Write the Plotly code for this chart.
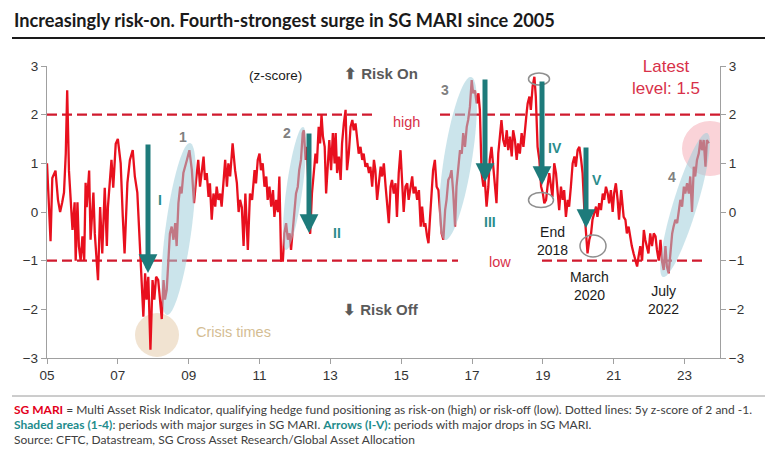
import math
import plotly.graph_objects as go

# ---------------- data ----------------
years = [
2005.00,2005.05,2005.10,2005.15,2005.24,2005.31,2005.37,2005.43,2005.48,2005.53,2005.57,2005.62,2005.67,2005.72,2005.78,2005.81,2005.86,2005.90,2005.95,
2006.00,2006.05,2006.09,2006.12,2006.19,2006.23,2006.31,2006.35,2006.42,2006.44,2006.50,2006.56,2006.63,2006.69,2006.72,2006.78,2006.82,2006.87,2006.94,
2007.00,2007.08,2007.14,2007.19,2007.27,2007.34,2007.42,2007.48,2007.55,2007.60,2007.66,2007.72,2007.77,2007.81,2007.86,2007.92,2007.98,
2008.03,2008.08,2008.14,2008.19,2008.24,2008.29,2008.33,2008.38,2008.43,2008.47,2008.52,2008.57,2008.62,2008.66,2008.71,2008.76,2008.80,2008.85,2008.95,
2009.02,2009.09,2009.15,2009.21,2009.27,2009.32,2009.37,2009.42,2009.46,2009.51,2009.56,2009.60,2009.65,2009.70,2009.75,2009.79,2009.84,2009.89,2009.93,2009.98,
2010.03,2010.08,2010.12,2010.17,2010.24,2010.31,2010.36,2010.41,2010.45,2010.50,2010.55,2010.60,2010.67,2010.73,2010.79,2010.86,2010.90,2010.95,
2011.00,2011.04,2011.09,2011.14,2011.19,2011.23,2011.28,2011.33,2011.38,2011.42,2011.47,2011.52,2011.56,2011.61,2011.66,2011.70,2011.75,2011.80,2011.85,2011.89,2011.94,2011.99,
2012.03,2012.08,2012.12,2012.17,2012.22,2012.25,2012.30,2012.34,2012.39,2012.43,2012.48,2012.52,2012.58,2012.62,2012.67,2012.71,2012.75,2012.79,2012.84,2012.88,2012.93,2012.97,
2013.02,2013.07,2013.12,2013.15,2013.19,2013.24,2013.29,2013.33,2013.38,2013.43,2013.47,2013.52,2013.57,2013.62,2013.66,2013.71,2013.76,2013.80,2013.85,2013.90,2013.94,2013.99,
2014.04,2014.09,2014.13,2014.18,2014.23,2014.27,2014.32,2014.37,2014.42,2014.46,2014.51,2014.56,2014.60,2014.65,2014.70,2014.74,2014.79,2014.84,2014.88,2014.93,2014.98,
2015.03,2015.07,2015.12,2015.17,2015.21,2015.26,2015.31,2015.35,2015.40,2015.45,2015.50,2015.55,2015.59,2015.64,2015.68,2015.73,2015.77,2015.81,2015.86,2015.90,2015.95,
2016.00,2016.05,2016.09,2016.14,2016.19,2016.24,2016.28,2016.33,2016.38,2016.42,2016.47,2016.52,2016.56,2016.61,2016.66,2016.71,2016.75,2016.80,2016.85,2016.89,2016.94,2016.99,
2017.03,2017.08,2017.13,2017.18,2017.22,2017.27,2017.32,2017.36,2017.41,2017.46,2017.50,2017.55,2017.60,2017.65,2017.69,2017.74,2017.79,2017.83,2017.88,2017.93,2017.98,
2018.02,2018.07,2018.12,2018.16,2018.21,2018.26,2018.30,2018.35,2018.40,2018.45,2018.50,2018.54,2018.57,2018.62,2018.66,2018.71,2018.76,2018.80,2018.85,2018.90,2018.95,
2019.00,2019.04,2019.09,2019.13,2019.18,2019.23,2019.27,2019.32,2019.37,2019.42,2019.46,2019.51,2019.56,2019.60,2019.65,2019.70,2019.74,2019.79,2019.84,2019.89,2019.93,2019.98,
2020.03,2020.08,2020.12,2020.17,2020.22,2020.26,2020.31,2020.36,2020.40,2020.45,2020.50,2020.54,2020.59,2020.64,2020.69,2020.73,2020.78,2020.83,2020.87,2020.92,2020.97,
2021.01,2021.06,2021.11,2021.15,2021.21,2021.25,2021.28,2021.33,2021.37,2021.42,2021.47,2021.51,2021.56,2021.61,2021.66,2021.70,2021.75,2021.80,2021.85,2021.89,2021.94,2021.98,
2022.03,2022.08,2022.13,2022.18,2022.22,2022.27,2022.32,2022.36,2022.41,2022.46,2022.50,2022.55,2022.60,2022.65,2022.69,2022.74,2022.79,2022.84,2022.88,2022.93,2022.98,
2023.02,2023.07,2023.12,2023.16,2023.21,2023.26,2023.30,2023.35,2023.40,2023.45,2023.49,2023.54,2023.59,2023.63,2023.68,
]

mari = [
1.0,0.3,-0.6,0.7,0.85,0.25,0.0,0.2,0.4,1.2,2.5,0.85,0.25,-0.37,0.2,-1.0,0.2,-0.7,-1.0,
-0.5,-1.0,0.6,0.1,0.85,-0.57,0.4,-0.45,-1.2,-1.4,0.1,-0.85,0.5,-0.7,0.1,0.6,1.07,0.5,1.4,
1.5,1.0,-0.1,-0.85,0.6,1.07,1.27,0.73,0.4,-0.44,-1.33,-2.15,-1.26,-1.8,-1.33,-2.83,-1.4,
-1.8,-1.33,-1.4,-1.8,-2.2,-1.4,-1.8,-1.6,-1.0,-0.44,-0.3,-0.57,-0.23,-0.7,0.18,0.52,0.38,0.8,1.07,
1.27,0.86,0.18,0.66,1.07,0.52,0.86,1.14,0.66,0.8,0.31,0.59,-0.16,0.38,0.11,0.52,0.25,0.38,0.11,0.52,
1.07,0.52,1.0,0.73,1.41,0.86,0.6,0.0,0.25,0.1,-0.7,0.38,-0.78,0.38,0.25,0.86,0.59,1.07,
1.2,0.86,1.0,0.52,0.73,0.25,0.52,0.11,0.45,-0.1,0.25,0.0,0.73,-1.0,-1.0,-0.44,-0.23,-0.57,-0.44,-0.78,-0.3,0.18,
0.38,0.52,0.86,1.07,1.62,1.68,1.07,1.34,0.25,-0.45,0.38,0.73,1.2,1.0,1.75,1.41,2.0,1.55,1.34,0.38,1.14,1.48,
0.86,1.62,1.0,1.62,0.8,1.14,0.66,1.41,1.82,2.1,0.86,1.2,1.75,1.89,1.68,1.82,1.48,1.2,1.34,1.07,1.2,0.93,
1.0,0.8,0.93,0.52,1.07,0.86,0.25,0.66,0.93,0.73,1.0,0.52,0.18,-0.23,0.52,0.66,0.38,0.59,-0.1,0.8,1.27,
0.38,0.0,0.52,0.59,0.25,0.52,0.73,0.38,0.52,0.25,0.45,-0.3,0.11,-0.3,-0.23,-0.5,-0.64,-0.16,0.38,0.86,1.07,
0.52,0.45,0.11,-0.44,-0.57,0.04,0.25,0.66,0.73,0.86,0.38,-0.3,0.52,0.86,1.27,1.2,1.62,1.34,1.75,1.89,2.16,2.71,
2.44,2.5,2.23,2.44,2.1,0.8,0.52,0.66,0.11,0.52,1.07,1.34,0.93,0.38,0.18,1.2,1.62,1.89,1.48,1.34,1.68,
1.27,1.55,1.14,1.68,1.48,1.07,1.41,1.2,1.62,1.34,1.82,2.03,2.23,2.37,2.1,2.58,2.78,2.37,1.34,1.07,0.52,
0.38,0.18,0.25,0.52,0.8,0.52,0.31,1.0,0.8,0.38,0.04,0.52,0.25,0.45,-0.1,0.25,0.11,0.52,1.0,1.14,0.93,1.27,
1.34,1.07,0.8,0.04,-0.5,-0.85,-0.57,-0.44,-0.16,0.0,0.11,-0.1,0.18,0.04,0.38,0.25,0.52,0.38,0.18,0.45,0.0,
0.38,0.59,0.25,-0.16,0.45,0.11,-0.1,-0.16,-0.44,-0.3,-0.57,-0.7,-0.85,-1.0,-1.12,-0.92,-0.7,-1.0,-0.37,-0.57,-0.7,-0.85,
-0.44,-0.7,-0.44,-0.5,-0.78,-1.0,-0.57,-1.0,-1.19,-0.7,-1.12,-1.26,-0.85,-0.44,-0.3,-0.16,-0.23,0.04,0.25,0.11,0.52,
0.38,0.59,0.38,0.73,0.0,0.93,0.73,1.07,1.2,1.48,1.27,1.48,0.93,1.48,1.41,
]

tick_years = [2005, 2007, 2009, 2011, 2013, 2015, 2017, 2019, 2021, 2023]
tick_labels = ["05", "07", "09", "11", "13", "15", "17", "19", "21", "23"]
y_ticks = [-3, -2, -1, 0, 1, 2, 3]
high_level = 2
low_level = -1

# ---------------- geometry helpers (pixel -> data / paper) ----------------
W, H = 770, 456
L, R, T, B = 47, 720, 66, 358
X0, X1, Y0, Y1 = 2005, 2024, -3, 3


def dx(px):
    return X0 + (px - L) / (R - L) * (X1 - X0)


def dy(py):
    return Y1 - (py - T) / (B - T) * (Y1 - Y0)


def paper_x(px):
    return (px - L) / (R - L)


def paper_y(py):
    return (B - py) / (B - T)


def ellipse_path(p1, p2, b, n=72):
    (x1, y1), (x2, y2) = p1, p2
    cx, cy = (x1 + x2) / 2, (y1 + y2) / 2
    Lh = math.hypot(x2 - x1, y2 - y1)
    a = Lh / 2
    ux, uy = (x2 - x1) / Lh, (y2 - y1) / Lh
    vx, vy = -uy, ux
    pts = []
    for i in range(n):
        t = 2 * math.pi * i / n
        px = cx + a * math.cos(t) * ux + b * math.sin(t) * vx
        py = cy + a * math.cos(t) * uy + b * math.sin(t) * vy
        pts.append(f"{dx(px):.4f},{dy(py):.4f}")
    return "M " + " L ".join(pts) + " Z"


RED = "#e8101e"
DASH_RED = "#d01a2e"
TEAL = "#1e7b7b"
GREY_NUM = "#808080"
LABEL_RED = "#d8314a"

fig = go.Figure()
fig.add_trace(go.Scatter(x=years, y=mari, mode="lines",
                         line=dict(color=RED, width=2.3), hoverinfo="skip",
                         showlegend=False))
fig.add_trace(go.Scatter(x=[years[0]], y=[mari[0]], yaxis="y2", mode="markers",
                         marker=dict(opacity=0), showlegend=False, hoverinfo="skip"))

shapes = []
# circles below the line
shapes.append(dict(type="circle", xref="x", yref="y", layer="below",
                   x0=dx(135), x1=dx(179), y0=dy(313), y1=dy(357),
                   fillcolor="#f1e3d1", line=dict(width=0)))
shapes.append(dict(type="circle", xref="x", yref="y", layer="below",
                   x0=dx(682), x1=dx(738), y0=dy(121), y1=dy(176),
                   fillcolor="#fad3d8", line=dict(width=0)))
# dashed threshold lines
for (xa, xb, lvl) in [(47, 372, high_level), (440, 720, high_level),
                      (47, 458, low_level), (542, 704, low_level)]:
    shapes.append(dict(type="line", xref="x", yref="y", layer="below",
                       x0=dx(xa), x1=dx(xb), y0=lvl, y1=lvl,
                       line=dict(color=DASH_RED, width=2.4, dash="10px,5px")))
# shaded surge ellipses (above line)
for p1, p2, b in [((167, 315), (190, 143), 13),
                  ((286, 250), (303, 127), 8),
                  ((445, 240), (471, 77), 14),
                  ((663, 277), (707, 133), 12)]:
    shapes.append(dict(type="path", xref="x", yref="y", layer="above",
                       path=ellipse_path(p1, p2, b),
                       fillcolor="rgba(160,205,218,0.55)", line=dict(width=0)))
# grey outline ellipses
for (cx, cy, rx, ry) in [(539, 79, 10.5, 6), (541, 200, 12.5, 7.5), (593, 246, 13, 11)]:
    shapes.append(dict(type="circle", xref="x", yref="y", layer="above",
                       x0=dx(cx - rx), x1=dx(cx + rx), y0=dy(cy + ry), y1=dy(cy - ry),
                       line=dict(color="#8f8f8f", width=1.5), fillcolor="rgba(0,0,0,0)"))
# title rule and footer rule
shapes.append(dict(type="line", xref="paper", yref="paper",
                   x0=paper_x(12), x1=paper_x(765), y0=paper_y(38), y1=paper_y(38),
                   line=dict(color="#1a1a1a", width=2)))
shapes.append(dict(type="line", xref="paper", yref="paper",
                   x0=paper_x(12), x1=paper_x(765), y0=paper_y(396), y1=paper_y(396),
                   line=dict(color="#9a9a9a", width=1)))

ann = []


def txt(px, py, text, size=13, color="#1a1a1a", bold=False, family="Liberation Sans, Arial",
        xanchor="center"):
    ann.append(dict(x=dx(px), y=dy(py), xref="x", yref="y", text=f"<b>{text}</b>" if bold else text,
                    showarrow=False, xanchor=xanchor, yanchor="middle",
                    font=dict(size=size, color=color, family=family)))


txt(275, 75, "(z-score)", 13.5)
txt(381, 73, "⬆ Risk On", 15, "#5a5a5a", True)
txt(381, 309, "⬇ Risk Off", 15, "#5a5a5a", True)
txt(406, 122, "high", 14.5, LABEL_RED)
txt(500, 262, "low", 14.5, LABEL_RED)
txt(233, 332, "Crisis times", 14.5, "#d4bd93")
txt(666, 77, "Latest<br>level: 1.5", 17, LABEL_RED)
txt(541, 63, "Summer 2018", 13.5)
txt(552, 241, "End<br>2018", 14)
txt(589, 286, "March<br>2020", 14)
txt(663, 300, "July<br>2022", 14)
for px, py, s in [(160, 200, "I"), (337, 233, "II"), (490, 222, "III"),
                  (555, 148, "IV"), (597, 180, "V")]:
    txt(px, py, s, 14, "#2a8c8c", True)
for px, py, s in [(183, 137, "1"), (287, 133, "2"), (445, 90, "3"), (672, 177, "4")]:
    txt(px, py, s, 14, GREY_NUM, True)

# drop arrows
for px, ptop, pbot in [(148, 143, 273), (309, 132, 233), (485, 78, 182),
                       (542, 80, 185), (586, 146, 228)]:
    ann.append(dict(x=dx(px), y=dy(pbot), ax=dx(px), ay=dy(ptop), xref="x", yref="y",
                    axref="x", ayref="y", text="", showarrow=True, arrowhead=2,
                    arrowsize=0.75, arrowwidth=5, arrowcolor=TEAL))

# footer
FOOT = "Lato, Liberation Sans, Arial"
foot_lines = [
    (409, '<span style="color:#e3001b"><b>SG MARI</b></span> = Multi Asset Risk Indicator, qualifying hedge fund positioning as risk-on (high) or risk-off (low). Dotted lines: 5y z-score of 2 and -1.'),
    (424, '<span style="color:#1e8c8c"><b>Shaded areas (1-4)</b></span>: periods with major surges in SG MARI. <span style="color:#1e8c8c"><b>Arrows (I-V):</b></span> periods with major drops in SG MARI.'),
    (439, 'Source: CFTC, Datastream, SG Cross Asset Research/Global Asset Allocation'),
]
for py, t in foot_lines:
    ann.append(dict(x=paper_x(12), y=paper_y(py), xref="paper", yref="paper", text=t,
                    showarrow=False, xanchor="left", yanchor="middle",
                    font=dict(size=12, color="#404040", family=FOOT)))

# title
ann.append(dict(x=paper_x(12), y=paper_y(20), xref="paper", yref="paper",
                text="<b>Increasingly risk-on. Fourth-strongest surge in SG MARI since 2005</b>",
                showarrow=False, xanchor="left", yanchor="middle",
                font=dict(size=18.2, color="#1a1a1a", family="Lato, Liberation Sans")))

axis_common = dict(showline=True, linecolor="#a0a0a0", linewidth=1.3, showgrid=False,
                   zeroline=False, ticks="outside", tickcolor="#a0a0a0", ticklen=5,
                   tickfont=dict(size=13.5, color="#333333", family="Liberation Sans, Arial"))

fig.update_layout(
    width=W, height=H,
    margin=dict(l=L, r=W - R, t=T, b=H - B),
    paper_bgcolor="white", plot_bgcolor="white",
    showlegend=False,
    xaxis=dict(range=[X0, X1], tickvals=tick_years, ticktext=tick_labels, **axis_common),
    yaxis=dict(range=[Y0, Y1], tickvals=y_ticks, **axis_common),
    yaxis2=dict(range=[Y0, Y1], tickvals=y_ticks, overlaying="y", side="right", **axis_common),
    shapes=shapes,
    annotations=ann,
)

fig.write_html("out.html", config={"displayModeBar": False},
               post_script="document.body.style.margin='0px';")
